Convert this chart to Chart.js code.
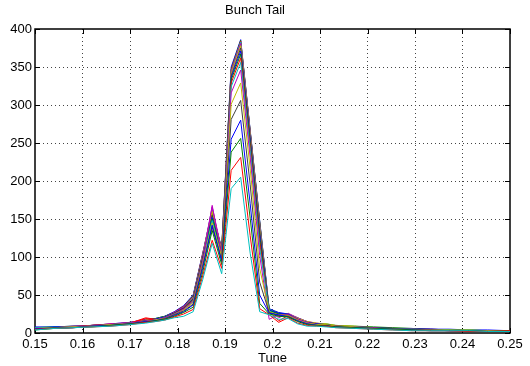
<!DOCTYPE html>
<html><head><meta charset="utf-8">
<script src="https://cdn.jsdelivr.net/npm/chart.js@4"></script>
<style>html,body{margin:0;padding:0;background:#fff}#wrap{width:530px;height:366px}</style>
</head><body><div id="wrap"><canvas id="c" width="530" height="366"></canvas></div>
<script>
const chartTitle = 'Bunch Tail';
const xTitle = 'Tune';
const tune = [0.150, 0.154, 0.158, 0.162, 0.166, 0.170, 0.1733, 0.1753, 0.1773, 0.1793, 0.1813, 0.1833, 0.1853, 0.1873, 0.1893, 0.1913, 0.1933, 0.1953, 0.1973, 0.1993, 0.2013, 0.2033, 0.2053, 0.2073, 0.2093, 0.2113, 0.2133, 0.2173, 0.2213, 0.2253, 0.2293, 0.2333, 0.2373, 0.2413, 0.2453, 0.250];

const s0  = [8, 8, 9, 10, 12, 14, 18, 19, 22, 28, 36, 50, 105, 160, 110, 350, 386, 267, 148, 32, 27, 25, 19, 14, 12, 11, 9, 8, 7, 6, 6, 5, 5, 4, 4, 3];
const s1  = [7, 8, 9, 10, 11, 14, 17, 19, 22, 27, 35, 49, 103, 158, 112, 347, 385, 266, 147, 31, 26, 25, 20, 15, 12, 12, 10, 9, 8, 7, 6, 5, 4, 4, 3, 2];
const s2  = [6, 7, 8, 10, 12, 13, 20, 18, 21, 27, 35, 48, 104, 162, 108, 346, 384, 265, 145, 30, 22, 24, 18, 13, 11, 10, 9, 8, 6, 6, 5, 4, 4, 3, 3, 3];
const s3  = [7, 8, 8, 9, 11, 13, 16, 18, 21, 26, 34, 47, 102, 165, 106, 344, 383, 263, 143, 31, 25, 23, 19, 14, 12, 11, 9, 8, 7, 5, 5, 4, 4, 4, 3, 2];
const s4  = [6, 7, 9, 10, 12, 14, 17, 18, 21, 27, 34, 47, 101, 166, 109, 343, 381, 262, 140, 30, 20, 26, 20, 15, 13, 11, 9, 8, 7, 6, 5, 5, 4, 3, 3, 3];
const s5  = [5, 7, 8, 10, 11, 13, 17, 18, 21, 26, 33, 46, 100, 160, 107, 341, 378, 260, 138, 29, 24, 25, 19, 15, 13, 12, 10, 9, 7, 6, 5, 4, 4, 4, 3, 2];
const s6  = [7, 7, 8, 9, 11, 13, 16, 18, 21, 26, 33, 45, 99, 155, 105, 338, 375, 257, 135, 30, 25, 24, 18, 14, 12, 11, 9, 8, 7, 6, 5, 4, 4, 3, 3, 3];
const s7  = [6, 8, 8, 10, 11, 13, 16, 18, 21, 26, 33, 45, 98, 152, 104, 336, 371, 254, 129, 30, 26, 25, 18, 14, 12, 11, 9, 8, 7, 6, 5, 5, 4, 3, 3, 2];
const s8  = [5, 7, 8, 9, 11, 13, 16, 17, 20, 26, 32, 44, 97, 150, 103, 333, 367, 250, 124, 29, 25, 23, 18, 13, 11, 11, 9, 8, 7, 6, 5, 4, 4, 3, 3, 2];
const s9  = [6, 7, 8, 10, 11, 13, 19, 17, 20, 25, 32, 43, 96, 140, 100, 329, 362, 245, 119, 28, 16, 23, 17, 13, 11, 10, 9, 7, 6, 5, 4, 4, 3, 3, 3, 3];
const s10 = [7, 7, 8, 9, 11, 13, 15, 17, 20, 25, 31, 42, 94, 148, 99, 324, 356, 240, 112, 29, 23, 22, 17, 13, 11, 10, 8, 8, 6, 5, 5, 4, 4, 3, 3, 3];
const s11 = [5, 7, 8, 9, 11, 13, 16, 17, 20, 25, 31, 41, 93, 168, 102, 316, 346, 231, 102, 18, 24, 24, 18, 14, 11, 10, 9, 8, 7, 5, 5, 4, 3, 3, 3, 2];
const s12 = [6, 7, 8, 9, 11, 12, 15, 17, 19, 24, 30, 40, 90, 145, 100, 301, 329, 216, 85, 28, 24, 23, 17, 13, 11, 11, 9, 8, 6, 5, 4, 4, 4, 3, 3, 2];
const s13 = [5, 7, 7, 9, 10, 12, 15, 16, 19, 24, 29, 38, 88, 140, 96, 281, 306, 195, 67, 27, 23, 22, 16, 12, 10, 10, 8, 7, 6, 5, 4, 4, 3, 3, 2, 2];
const s14 = [6, 6, 7, 9, 10, 12, 15, 16, 18, 23, 28, 37, 85, 142, 94, 255, 280, 170, 50, 26, 24, 21, 16, 12, 10, 9, 8, 7, 6, 5, 4, 3, 3, 3, 2, 2];
const s15 = [4, 6, 7, 8, 10, 12, 14, 16, 18, 22, 27, 34, 80, 135, 90, 238, 256, 151, 39, 25, 22, 21, 15, 11, 10, 9, 8, 7, 6, 5, 4, 3, 3, 3, 2, 3];
const s16 = [5, 6, 7, 8, 9, 11, 14, 15, 17, 21, 25, 31, 75, 122, 85, 214, 231, 128, 32, 24, 14, 20, 13, 10, 9, 9, 7, 6, 5, 4, 3, 3, 3, 2, 2, 3];
const s17 = [4, 6, 7, 8, 9, 11, 13, 15, 17, 20, 22, 28, 70, 118, 78, 190, 205, 105, 28, 24, 18, 19, 12, 9, 9, 8, 7, 6, 5, 4, 3, 3, 3, 3, 2, 2];

const seriesValues = [s0, s1, s2, s3, s4, s5, s6, s7, s8, s9, s10, s11, s12, s13, s14, s15, s16, s17];
const colorCycle = ['#0000ff', '#008000', '#ff0000', '#00bfbf', '#bf00bf', '#bfbf00', '#404040'];

const xTicks = [0.15, 0.16, 0.17, 0.18, 0.19, 0.20, 0.21, 0.22, 0.23, 0.24, 0.25];
const xTickLabels = ['0.15', '0.16', '0.17', '0.18', '0.19', '0.2', '0.21', '0.22', '0.23', '0.24', '0.25'];
const yTicks = [0, 50, 100, 150, 200, 250, 300, 350, 400];
const yTickLabels = ['0', '50', '100', '150', '200', '250', '300', '350', '400'];

const FONT = "'Liberation Sans', Arial, Helvetica, sans-serif";

const datasets = seriesValues.map((vals, i) => ({
  data: vals.map((v, k) => ({x: tune[k], y: v})),
  borderColor: colorCycle[i % colorCycle.length],
  backgroundColor: colorCycle[i % colorCycle.length],
  borderWidth: 1,
  pointRadius: 0,
  tension: 0,
  fill: false,
  order: seriesValues.length - 1 - i
}));

const framePlugin = {
  id: 'frame',
  beforeDatasetsDraw(chart) {
    const {ctx, chartArea: a, scales: {x, y}} = chart;
    ctx.save();
    ctx.strokeStyle = '#000';
    ctx.lineWidth = 1;
    const L = 5;
    ctx.beginPath();
    xTicks.forEach(t => {
      const px = Math.round(x.getPixelForValue(t)) + 0.5;
      ctx.moveTo(px, a.bottom); ctx.lineTo(px, a.bottom - L);
      ctx.moveTo(px, a.top); ctx.lineTo(px, a.top + L);
    });
    yTicks.forEach(t => {
      const py = Math.round(y.getPixelForValue(t)) + 0.5;
      ctx.moveTo(a.left, py); ctx.lineTo(a.left + L, py);
      ctx.moveTo(a.right, py); ctx.lineTo(a.right - L, py);
    });
    ctx.stroke();
    ctx.lineWidth = 1.5;
    ctx.strokeRect(a.left, a.top, a.right - a.left, a.bottom - a.top);
    ctx.restore();
  }
};

new Chart(document.getElementById('c'), {
  type: 'line',
  data: {datasets},
  options: {
    responsive: false,
    animation: false,
    events: [],
    layout: {padding: {left: 0, right: 20, top: 0, bottom: 0}},
    plugins: {
      legend: {display: false},
      tooltip: {enabled: false},
      title: {
        display: true, text: chartTitle, color: '#000',
        font: {family: FONT, size: 13, weight: 'normal'},
        padding: {top: 3, bottom: 10.4}
      }
    },
    scales: {
      x: {
        type: 'linear', min: 0.15, max: 0.25,
        afterBuildTicks(scale) { scale.ticks = xTicks.map(v => ({value: v})); },
        afterFit(scale) { scale.height = 33; },
        ticks: {
          color: '#000', font: {family: FONT, size: 13}, padding: 4, maxRotation: 0, autoSkip: false,
          callback: (v, i) => xTickLabels[i]
        },
        grid: {
          drawTicks: false,
          color: (c) => (c.index === 0 || c.index === xTicks.length - 1) ? 'rgba(0,0,0,0)' : '#444'
        },
        border: {display: false, dash: [1, 3]},
        title: {display: true, text: xTitle, color: '#000', font: {family: FONT, size: 13}, padding: {top: 0, bottom: 0}}
      },
      y: {
        type: 'linear', min: 0, max: 400,
        afterBuildTicks(scale) { scale.ticks = yTicks.map(v => ({value: v})); },
        afterFit(scale) { scale.width = 35; },
        ticks: {
          color: '#000', font: {family: FONT, size: 13}, padding: 3, autoSkip: false,
          callback: (v, i) => yTickLabels[i]
        },
        grid: {
          drawTicks: false,
          color: (c) => (c.index === 0 || c.index === yTicks.length - 1) ? 'rgba(0,0,0,0)' : '#444'
        },
        border: {display: false, dash: [1, 3]}
      }
    }
  },
  plugins: [framePlugin]
});
</script>
</body></html>
